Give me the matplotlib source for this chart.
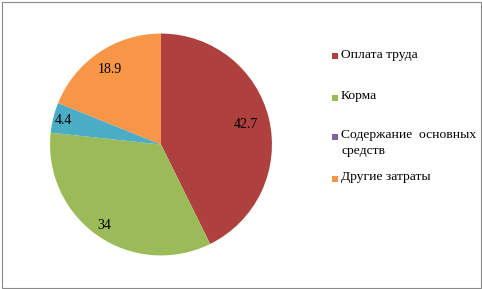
import numpy as np
import matplotlib.pyplot as plt
from matplotlib.patches import Rectangle

plt.rcParams["font.family"] = "serif"
plt.rcParams["font.serif"] = ["Liberation Serif", "DejaVu Serif"]

categories = ["Оплата труда", "Корма", "Содержание  основных\nсредств", "Прочие", "Другие затраты"]
values = [42.7, 34, 0, 4.4, 18.9]
value_labels = ["42.7", "34", "", "4.4", "18.9"]
colors = ["#AE403D", "#9BBB59", "#8064A2", "#4BACC6", "#F79646"]
legend_idx = [0, 1, 2, 4]
label_dist = [0.79, 0.89, 0.9, 0.91, 0.82]

W, H = 482, 289
fig = plt.figure(figsize=(W / 100, H / 100), dpi=100)
fig.patch.set_facecolor("white")
fig.patches.append(Rectangle((1.5 / W, 1.5 / H), (W - 3) / W, (H - 3) / H,
                             transform=fig.transFigure, fill=False,
                             edgecolor="#8a8a8a", linewidth=0.8))

cx, cy, r = 161, 144.5, 111.5
ax = fig.add_axes([(cx - r) / W, (H - cy - r) / H, 2 * r / W, 2 * r / H])
wedges, _ = ax.pie(values, colors=colors, startangle=90, counterclock=False,
                   wedgeprops=dict(linewidth=0))
ax.set_xlim(-1.005, 1.005)
ax.set_ylim(-1.005, 1.005)
ax.set_aspect("auto")

for w, txt, d in zip(wedges, value_labels, label_dist):
    if not txt:
        continue
    ang = np.deg2rad((w.theta1 + w.theta2) / 2)
    ax.text(d * np.cos(ang), d * np.sin(ang), txt, ha="center", va="center",
            fontsize=10, color="black")

# legend
leg_y = [56, 97, 136, 178]
for i, y in zip(legend_idx, leg_y):
    fig.patches.append(Rectangle((332 / W, 1 - (y + 3.5) / H), 6 / W, 6 / H,
                                 transform=fig.transFigure,
                                 facecolor=colors[i], edgecolor="none"))
    fig.text(341 / W, 1 - (y - 7) / H, categories[i], ha="left", va="top",
             fontsize=9.7, linespacing=1.4)

plt.savefig("out.png", dpi=100)
